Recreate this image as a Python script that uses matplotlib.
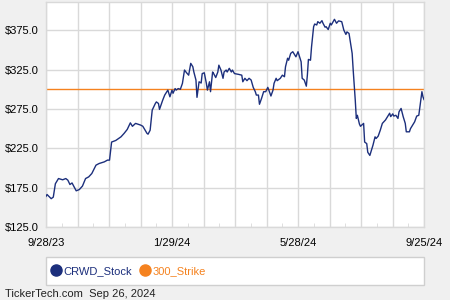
#!/usr/bin/env python3
"""
CRWD stock price over the last year, with the 300 strike line
"""

import matplotlib
matplotlib.use('Agg')
import matplotlib.pyplot as plt
from matplotlib.lines import Line2D
from matplotlib.patches import Rectangle
from matplotlib.ticker import FixedLocator, MultipleLocator, FuncFormatter

# days after 9/28/23
day_offsets = [
    0, 1, 5, 7, 9, 12, 16, 19, 21, 23, 25, 27, 29, 32, 35, 38, 41, 44, 48, 51,
    56, 59, 61, 63, 67, 72, 75, 78, 81, 83, 86, 91, 93, 97, 98, 100, 102, 105, 106, 108,
    109, 112, 114, 116, 117, 119, 121, 122, 124, 125, 127, 129, 131, 133, 135, 137, 139, 141, 142, 144,
    145, 147, 149, 150, 152, 154, 155, 157, 158, 160, 161, 163, 165, 166, 168, 170, 171, 173, 174, 176,
    178, 179, 181, 185, 188, 189, 191, 193, 195, 197, 199, 201, 202, 204, 205, 207, 209, 211, 213, 214,
    216, 218, 219, 221, 222, 225, 227, 229, 230, 232, 233, 235, 237, 238, 240, 242, 243, 245, 246, 248,
    250, 251, 252, 254, 255, 257, 258, 260, 261, 263, 265, 266, 268, 269, 271, 273, 274, 277, 279, 281,
    284, 286, 288, 289, 291, 292, 294, 295, 297, 298, 299, 301, 302, 305, 306, 308, 309, 311, 313, 314,
    316, 317, 319, 321, 323, 326, 328, 330, 331, 333, 334, 336, 338, 339, 341, 343, 345, 346, 349, 350,
    353, 354, 356, 358, 361, 362, 363,
]
crwd_prices = [
    164, 166.3, 161, 163, 180, 186.6, 185, 186.6, 184.5, 179, 181, 176, 171, 172.6, 177, 186.6, 188.7, 193, 203.6, 205.7,
    207.8, 210, 210, 233, 235, 239.6, 244, 249, 257.4, 253, 256.7, 254.5, 253, 244, 243, 248, 273.6, 282, 284, 282,
    274.5, 286, 292.7, 297, 299, 290.5, 299, 295, 301, 299, 301, 300, 307.5, 324.5, 321, 318, 333, 328.7, 322, 311.8,
    289.8, 309.6, 308, 320, 321, 307.6, 299, 309.6, 297, 322, 320, 315, 322, 330.7, 324.5, 314, 322, 324.5, 322, 326.7,
    322, 324.5, 320, 319, 318, 309.6, 314, 311, 314, 311.8, 302.5, 297, 292.7, 292.7, 281, 288.5, 297, 297, 302.5, 299,
    291.5, 299, 307.6, 314, 311, 314, 318, 316, 328.7, 339.5, 337, 345.7, 347.8, 345.7, 341.3, 347.8, 343.6, 335, 314, 311.8,
    304, 318, 338, 337, 354, 379.6, 383, 381.8, 386, 384, 387.3, 384, 379, 379.6, 376, 384, 381.8, 389, 384, 387,
    386, 375.3, 369.8, 373, 371, 362.5, 345.7, 324.5, 286, 263, 267, 255.8, 253, 256.7, 233, 231, 220, 216, 224.8, 229,
    239.6, 237.5, 240.5, 248, 256.7, 261, 265.3, 269.6, 265.3, 268.8, 266, 267, 263, 271.4, 275.7, 265.3, 256.7, 246, 246, 250,
    256.7, 258.7, 266, 267, 297, 290.5, 287,
]
strike = 300

x_labels = ['9/28/23', '1/29/24', '5/28/24', '9/25/24']
span_days = 363
y_major = [125, 175, 225, 275, 325, 375]

navy = '#1c2f7c'
orange = '#f5821f'
bg = '#f0f0f0'
grid_c = '#d9d9d9'

plt.rcParams['font.family'] = ['Liberation Sans', 'DejaVu Sans']

fig = plt.figure(figsize=(4.5, 3), dpi=100, facecolor=bg)
ax = fig.add_axes([46 / 450, 1 - 227 / 300, 378 / 450, 225 / 300])
ax.set_facecolor('white')

ax.plot(day_offsets, crwd_prices, color=navy, linewidth=1.0, zorder=3)
ax.axhline(strike, color=orange, linewidth=1.0, zorder=2)

ax.set_xlim(0, span_days)
ax.set_ylim(125, 411)

# monthly grid, labels every fourth line
step = span_days / 12
ax.xaxis.set_major_locator(FixedLocator([i * step for i in range(13)]))
ax.xaxis.set_minor_locator(FixedLocator([(i + 0.5) * step for i in range(12)]))
ax.set_xticklabels([x_labels[i // 4] if i % 4 == 0 else '' for i in range(13)])
ax.yaxis.set_major_locator(FixedLocator(y_major))
ax.yaxis.set_minor_locator(MultipleLocator(50, offset=25))
ax.yaxis.set_major_formatter(FuncFormatter(lambda v, p: f'${v:.1f}'))

ax.grid(True, which='major', color=grid_c, linewidth=1.0, zorder=0)
ax.tick_params(which='major', length=0, labelsize=8, colors='black')
ax.tick_params(axis='x', which='major', pad=8)
ax.tick_params(axis='y', which='major', pad=5)
ax.tick_params(which='minor', direction='in', length=3, color=grid_c)
for s in ax.spines.values():
    s.set_color(grid_c)
    s.set_linewidth(1.0)

# legend box under the chart
fig.patches.append(Rectangle((46 / 450, 1 - 285 / 300), 378 / 450, 28 / 300,
                             transform=fig.transFigure, facecolor='white',
                             edgecolor='#cfcfcf', linewidth=1.0))
handles = [Line2D([], [], linestyle='none', marker='o', markersize=8, color=navy),
           Line2D([], [], linestyle='none', marker='o', markersize=8, color=orange)]
fig.legend(handles, ['CRWD_Stock', '300_Strike'], loc='center left',
           bbox_to_anchor=(46 / 450, 1 - 271 / 300), ncol=2, frameon=False,
           fontsize=8, labelcolor=[navy, orange], handletextpad=0.1,
           columnspacing=0.5, handlelength=1.2, borderaxespad=0, borderpad=0.3)

fig.text(5 / 450, 1 - 294 / 300, 'TickerTech.com  Sep 26, 2024', fontsize=8,
         color='#222222', va='center', ha='left')

fig.savefig('out.png', dpi=100, facecolor=bg)
